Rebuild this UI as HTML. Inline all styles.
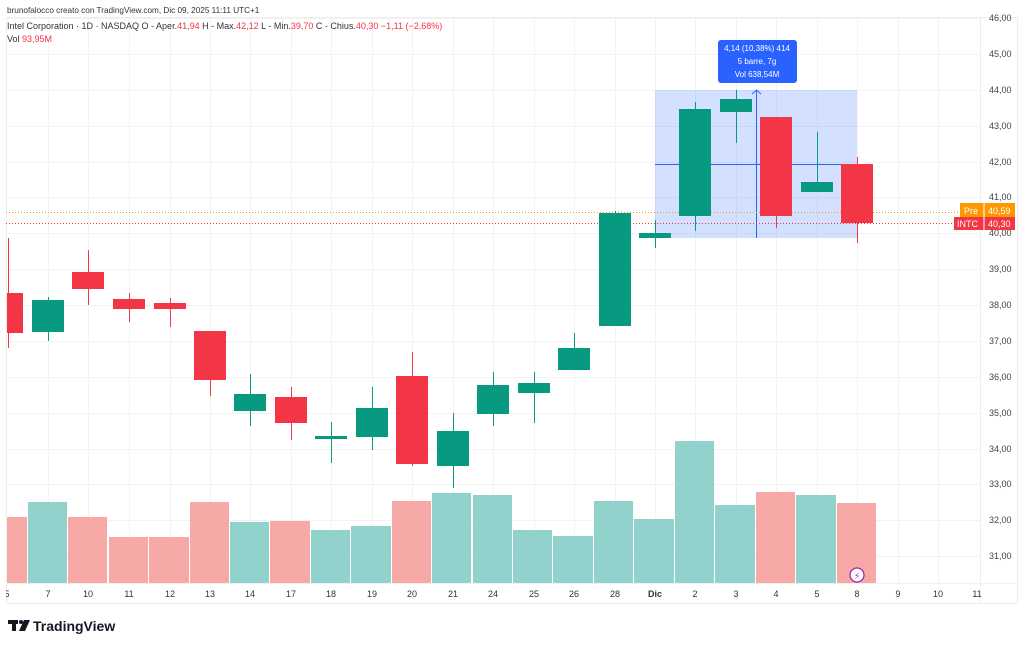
<!DOCTYPE html>
<html><head><meta charset="utf-8"><style>
html,body{margin:0;padding:0;background:#fff;width:1024px;height:645px;overflow:hidden}
svg{display:block;font-family:"Liberation Sans","DejaVu Sans",sans-serif}
</style></head><body>
<svg width="1024" height="645" viewBox="0 0 1024 645" xmlns="http://www.w3.org/2000/svg">
<text x="7" y="13" font-size="8.2" fill="#333">brunofalocco creato con TradingView.com, Dic 09, 2025 11:11 UTC+1</text>
<rect x="6.5" y="17.5" width="1011" height="586" fill="none" stroke="#eee"/>
<line x1="980.5" y1="17" x2="980.5" y2="604" stroke="#eee"/>
<line x1="6" y1="583.5" x2="1018" y2="583.5" stroke="#f0f0f0"/>
<g stroke="#f3f3f3" stroke-width="1">
<line x1="6" y1="18.5" x2="980" y2="18.5"/><line x1="6" y1="54.5" x2="980" y2="54.5"/><line x1="6" y1="90.5" x2="980" y2="90.5"/><line x1="6" y1="126.5" x2="980" y2="126.5"/><line x1="6" y1="162.5" x2="980" y2="162.5"/><line x1="6" y1="197.5" x2="980" y2="197.5"/><line x1="6" y1="233.5" x2="980" y2="233.5"/><line x1="6" y1="269.5" x2="980" y2="269.5"/><line x1="6" y1="305.5" x2="980" y2="305.5"/><line x1="6" y1="341.5" x2="980" y2="341.5"/><line x1="6" y1="377.5" x2="980" y2="377.5"/><line x1="6" y1="413.5" x2="980" y2="413.5"/><line x1="6" y1="449.5" x2="980" y2="449.5"/><line x1="6" y1="484.5" x2="980" y2="484.5"/><line x1="6" y1="520.5" x2="980" y2="520.5"/><line x1="6" y1="556.5" x2="980" y2="556.5"/>
<line x1="48.5" y1="18" x2="48.5" y2="583"/><line x1="88.5" y1="18" x2="88.5" y2="583"/><line x1="129.5" y1="18" x2="129.5" y2="583"/><line x1="170.5" y1="18" x2="170.5" y2="583"/><line x1="210.5" y1="18" x2="210.5" y2="583"/><line x1="250.5" y1="18" x2="250.5" y2="583"/><line x1="291.5" y1="18" x2="291.5" y2="583"/><line x1="331.5" y1="18" x2="331.5" y2="583"/><line x1="372.5" y1="18" x2="372.5" y2="583"/><line x1="412.5" y1="18" x2="412.5" y2="583"/><line x1="453.5" y1="18" x2="453.5" y2="583"/><line x1="493.5" y1="18" x2="493.5" y2="583"/><line x1="534.5" y1="18" x2="534.5" y2="583"/><line x1="574.5" y1="18" x2="574.5" y2="583"/><line x1="615.5" y1="18" x2="615.5" y2="583"/><line x1="655.5" y1="18" x2="655.5" y2="583"/><line x1="695.5" y1="18" x2="695.5" y2="583"/><line x1="736.5" y1="18" x2="736.5" y2="583"/><line x1="776.5" y1="18" x2="776.5" y2="583"/><line x1="817.5" y1="18" x2="817.5" y2="583"/><line x1="857.5" y1="18" x2="857.5" y2="583"/><line x1="898.5" y1="18" x2="898.5" y2="583"/><line x1="938.5" y1="18" x2="938.5" y2="583"/>
</g>
<text x="7" y="29" font-size="9" fill="#333">Intel Corporation · 1D · NASDAQ  O - Aper.<tspan fill="#f23645">41,94</tspan>  H - Max.<tspan fill="#f23645">42,12</tspan>  L - Min.<tspan fill="#f23645">39,70</tspan>  C - Chius.<tspan fill="#f23645">40,30  −1,11 (−2,68%)</tspan></text>
<text x="7" y="42" font-size="9" fill="#333">Vol  <tspan fill="#f23645">93,95M</tspan></text>
<g>
<rect x="7" y="517" width="20" height="66" fill="#f7a9a7"/>
<rect x="28" y="502" width="39" height="81" fill="#92d2cc"/>
<rect x="68" y="517" width="39" height="66" fill="#f7a9a7"/>
<rect x="109" y="537" width="39" height="46" fill="#f7a9a7"/>
<rect x="149" y="537" width="40" height="46" fill="#f7a9a7"/>
<rect x="190" y="502" width="39" height="81" fill="#f7a9a7"/>
<rect x="230" y="522" width="39" height="61" fill="#92d2cc"/>
<rect x="270" y="521" width="40" height="62" fill="#f7a9a7"/>
<rect x="311" y="530" width="39" height="53" fill="#92d2cc"/>
<rect x="351" y="526" width="40" height="57" fill="#92d2cc"/>
<rect x="392" y="501" width="39" height="82" fill="#f7a9a7"/>
<rect x="432" y="493" width="39" height="90" fill="#92d2cc"/>
<rect x="473" y="495" width="39" height="88" fill="#92d2cc"/>
<rect x="513" y="530" width="39" height="53" fill="#92d2cc"/>
<rect x="553" y="536" width="40" height="47" fill="#92d2cc"/>
<rect x="594" y="501" width="39" height="82" fill="#92d2cc"/>
<rect x="634" y="519" width="40" height="64" fill="#92d2cc"/>
<rect x="675" y="441" width="39" height="142" fill="#92d2cc"/>
<rect x="715" y="505" width="40" height="78" fill="#92d2cc"/>
<rect x="756" y="492" width="39" height="91" fill="#f7a9a7"/>
<rect x="796" y="495" width="40" height="88" fill="#92d2cc"/>
<rect x="837" y="503" width="39" height="80" fill="#f7a9a7"/>
</g>
<circle cx="857" cy="575" r="7" fill="#fff" stroke="#9c27b0" stroke-width="1.3"/>
<text x="857" y="579" font-size="9" fill="#9c27b0" text-anchor="middle">⚡</text>
<rect x="655" y="90" width="202" height="148" fill="#2962ff" fill-opacity="0.2"/>
<line x1="655" y1="164.5" x2="857" y2="164.5" stroke="#2962ff"/>
<line x1="756.5" y1="90" x2="756.5" y2="238" stroke="#2962ff"/>
<polyline points="752,94 756.5,90 761,94" fill="none" stroke="#2962ff"/>
<line x1="6" y1="212.5" x2="960" y2="212.5" stroke="#ff9800" stroke-dasharray="1,2"/>
<line x1="6" y1="223.5" x2="954" y2="223.5" stroke="#f23645" stroke-dasharray="1,2"/>
<g>
<g stroke="#f23645"><line x1="8.5" y1="238" x2="8.5" y2="348"/><line x1="88.5" y1="250" x2="88.5" y2="305"/><line x1="129.5" y1="293" x2="129.5" y2="322"/><line x1="170.5" y1="298" x2="170.5" y2="327"/><line x1="210.5" y1="331" x2="210.5" y2="396"/><line x1="291.5" y1="387" x2="291.5" y2="440"/><line x1="412.5" y1="352" x2="412.5" y2="466"/><line x1="776.5" y1="117" x2="776.5" y2="228"/><line x1="857.5" y1="157" x2="857.5" y2="243"/></g>
<g stroke="#089981"><line x1="48.5" y1="297" x2="48.5" y2="341"/><line x1="250.5" y1="374" x2="250.5" y2="426"/><line x1="331.5" y1="422" x2="331.5" y2="463"/><line x1="372.5" y1="387" x2="372.5" y2="450"/><line x1="453.5" y1="413" x2="453.5" y2="488"/><line x1="493.5" y1="372" x2="493.5" y2="426"/><line x1="534.5" y1="372" x2="534.5" y2="423"/><line x1="574.5" y1="333" x2="574.5" y2="370"/><line x1="615.5" y1="211" x2="615.5" y2="326"/><line x1="655.5" y1="220" x2="655.5" y2="248"/><line x1="695.5" y1="102" x2="695.5" y2="231"/><line x1="736.5" y1="90" x2="736.5" y2="143"/><line x1="817.5" y1="132" x2="817.5" y2="192"/></g>
<g fill="#f23645">
<rect x="7" y="293" width="16" height="40"/><rect x="72" y="272" width="32" height="17"/><rect x="113" y="299" width="32" height="10"/><rect x="154" y="303" width="32" height="6"/><rect x="194" y="331" width="32" height="49"/><rect x="275" y="397" width="32" height="26"/><rect x="396" y="376" width="32" height="88"/><rect x="760" y="117" width="32" height="99"/><rect x="841" y="164" width="32" height="59"/>
</g>
<g fill="#089981">
<rect x="32" y="300" width="32" height="32"/><rect x="234" y="394" width="32" height="17"/><rect x="315" y="436" width="32" height="3"/><rect x="356" y="408" width="32" height="29"/><rect x="437" y="431" width="32" height="35"/><rect x="477" y="385" width="32" height="29"/><rect x="518" y="383" width="32" height="10"/><rect x="558" y="348" width="32" height="22"/><rect x="599" y="213" width="32" height="113"/><rect x="639" y="233" width="32" height="5"/><rect x="679" y="109" width="32" height="107"/><rect x="720" y="99" width="32" height="13"/><rect x="801" y="182" width="32" height="10"/>
</g>
</g>
<rect x="718" y="40" width="79" height="43" rx="3" fill="#2962ff"/>
<g font-size="8" fill="#fff" text-anchor="middle"><text x="757" y="51">4,14 (10,38%) 414</text><text x="757" y="64">5 barre, 7g</text><text x="757" y="77">Vol 638,54M</text></g>
<g font-size="9" fill="#444" text-anchor="start">
<text x="989" y="21">46,00</text><text x="989" y="57">45,00</text><text x="989" y="93">44,00</text><text x="989" y="129">43,00</text><text x="989" y="165">42,00</text><text x="989" y="200">41,00</text><text x="989" y="236">40,00</text><text x="989" y="272">39,00</text><text x="989" y="308">38,00</text><text x="989" y="344">37,00</text><text x="989" y="380">36,00</text><text x="989" y="416">35,00</text><text x="989" y="452">34,00</text><text x="989" y="487">33,00</text><text x="989" y="523">32,00</text><text x="989" y="559">31,00</text>
</g>
<rect x="960" y="203" width="24" height="14" fill="#ff9800"/><rect x="984" y="203" width="31" height="14" fill="#ff9800"/>
<line x1="984" y1="203" x2="984" y2="217" stroke="#fff"/>
<rect x="954" y="217" width="30" height="13" fill="#f23645"/><rect x="984" y="217" width="31" height="13" fill="#f23645"/>
<line x1="984" y1="217" x2="984" y2="230" stroke="#fff"/>
<g font-size="9" fill="#fff"><text x="964" y="214">Pre</text><text x="988" y="214">40,59</text><text x="957" y="227">INTC</text><text x="988" y="227">40,30</text></g>
<g font-size="9" fill="#333" text-anchor="middle">
<text x="7" y="597">5</text><text x="48" y="597">7</text><text x="88" y="597">10</text><text x="129" y="597">11</text><text x="170" y="597">12</text><text x="210" y="597">13</text><text x="250" y="597">14</text><text x="291" y="597">17</text><text x="331" y="597">18</text><text x="372" y="597">19</text><text x="412" y="597">20</text><text x="453" y="597">21</text><text x="493" y="597">24</text><text x="534" y="597">25</text><text x="574" y="597">26</text><text x="615" y="597">28</text><text x="655" y="597" font-weight="bold">Dic</text><text x="695" y="597">2</text><text x="736" y="597">3</text><text x="776" y="597">4</text><text x="817" y="597">5</text><text x="857" y="597">8</text><text x="898" y="597">9</text><text x="938" y="597">10</text><text x="977" y="597">11</text>
</g>
<rect x="0" y="590" width="6" height="12" fill="#fff"/>
<g fill="#131722"><rect x="8" y="620" width="10" height="4"/><rect x="12" y="620" width="4" height="11"/><circle cx="21" cy="622" r="2"/><polygon points="24,620 30,620 25,631 19,631"/></g>
<text x="33" y="631" font-size="14" font-weight="bold" fill="#131722">TradingView</text>
</svg>
</body></html>
